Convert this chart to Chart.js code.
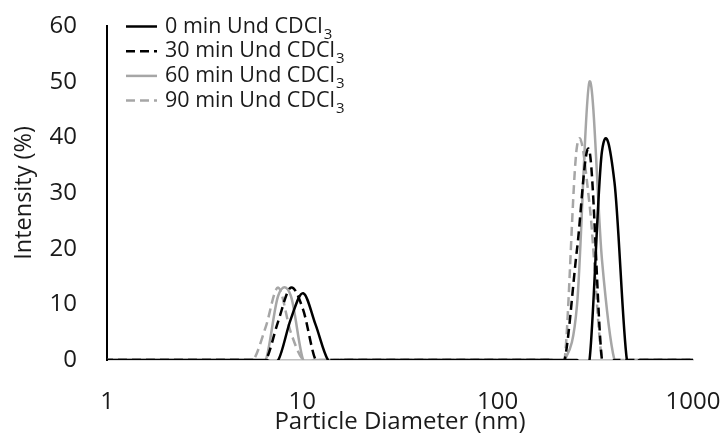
<!DOCTYPE html>
<html>
<head>
<meta charset="utf-8">
<script src="https://cdn.jsdelivr.net/npm/chart.js@4"></script>
<style>
html,body{margin:0;padding:0;background:#fff}
#wrap{width:726px;height:435px;position:relative}
</style>
</head>
<body>
<div id="wrap"><canvas id="myChart"></canvas></div>
<script>
// size classes of the DLS run (nm)
var sizes = [0.9649, 1.117, 1.294, 1.499, 1.736, 2.01, 2.328, 2.696, 3.122, 3.615,
  4.187, 4.849, 5.615, 6.503, 7.531, 8.721, 10.1, 11.7, 13.54, 15.69,
  18.17, 21.04, 24.36, 28.21, 32.67, 37.84, 43.82, 50.75, 58.77, 68.06,
  78.82, 91.28, 105.7, 122.4, 141.8, 164.2, 190.1, 220.2, 255.0, 295.3,
  342.0, 396.1, 458.7, 531.2, 615.1, 712.4, 825.0, 955.4, 1106]

// intensity (%) per size class
var min0 = [0,0,0,0,0,0,0,0,0,0,
  0,0,0,0,0,7.3,12,6.3,0,0,
  0,0,0,0,0,0,0,0,0,0,
  0,0,0,0,0,0,0,0,0,0,
  37.5,32,0,0,0,0,0,0,0]
var min30 = [0,0,0,0,0,0,0,0,0,0,
  0,0,0,0,7,13,9,0,0,0,
  0,0,0,0,0,0,0,0,0,0,
  0,0,0,0,0,0,0,0,20,37.5,
  0,0,0,0,0,0,0,0,0]
var min60 = [0,0,0,0,0,0,0,0,0,0,
  0,0,0,0,11.6,11.6,0,0,0,0,
  0,0,0,0,0,0,0,0,0,0,
  0,0,0,0,0,0,0,0,10,50,
  18,0,0,0,0,0,0,0,0]
var min90 = [0,0,0,0,0,0,0,0,0,0,
  0,0,0,6,13,5,0,0,0,0,
  0,0,0,0,0,0,0,0,0,0,
  0,0,0,0,0,0,0,0,38.5,28,
  0,0,0,0,0,0,0,0,0]

var labels = ['0 min Und CDCl₃', '30 min Und CDCl₃', '60 min Und CDCl₃', '90 min Und CDCl₃']
var xTicks = [1, 10, 100, 1000]
var yTicks = [0, 10, 20, 30, 40, 50, 60]

var black = '#000000'
var grey = '#a6a6a6'
var txt = '#1a1a1a'

function pts(vals){
    var out = []
    for(var i=0;i<=sizes.length-1;i++){
        out.push({x:sizes[i], y:vals[i]})
    }
    return out
}

// spreadsheet style smoothing: uniform catmull-rom control points
var smooth = {
    id:'smooth',
    beforeDatasetDraw:function(chart, args){
        var line = args.meta.dataset
        line.updateControlPoints(chart.chartArea, 'x')
        var p = line.points
        for(var i=0;i<=p.length-1;i++){
            var a = p[Math.max(i-1,0)]
            var b = p[Math.min(i+1,p.length-1)]
            var dx = (b.x-a.x)/6
            var dy = (b.y-a.y)/6
            p[i].cp1x = p[i].x-dx
            p[i].cp1y = p[i].y-dy
            p[i].cp2x = p[i].x+dx
            p[i].cp2y = p[i].y+dy
        }
    }
}

// legend drawn inside the plot, subscripts drawn smaller and lower
var subs = '₀₁₂₃₄₅₆₇₈₉'
var legendBox = {
    id:'legendBox',
    afterDraw:function(chart){
        var ctx = chart.ctx
        var x0 = chart.chartArea.left + 19
        var y0 = chart.chartArea.top + 0.5
        chart.data.datasets.forEach(function(ds, i){
            var y = y0 + i*24.7
            ctx.save()
            ctx.strokeStyle = ds.borderColor
            ctx.lineWidth = ds.borderWidth
            ctx.setLineDash(ds.borderDash || [])
            ctx.beginPath()
            ctx.moveTo(x0, y)
            ctx.lineTo(x0+31, y)
            ctx.stroke()
            ctx.restore()

            ctx.save()
            ctx.fillStyle = txt
            ctx.textBaseline = 'middle'
            ctx.textAlign = 'left'
            var x = x0 + 39
            var parts = ds.label.split('')
            var run = ''
            for(var c=0;c<=parts.length-1;c++){
                var k = subs.indexOf(parts[c])
                if(k<0){ run += parts[c]; continue }
                ctx.font = '21.5px "Open Sans"'
                ctx.fillText(run, x, y)
                x += ctx.measureText(run).width
                run = ''
                ctx.font = '15px "Open Sans"'
                ctx.fillText(String(k), x+1, y+8)
                x += ctx.measureText(String(k)).width + 1
            }
            if(run){
                ctx.font = '21.5px "Open Sans"'
                ctx.fillText(run, x, y)
            }
            ctx.restore()
        })
    }
}

var sets = [min0, min30, min60, min90]
var colors = [black, black, grey, grey]
var dashes = [[], [9,5], [], [9,5]]
var datasets = []
for(var s=0;s<=sets.length-1;s++){
    datasets.push({
        label:labels[s],
        data:pts(sets[s]),
        borderColor:colors[s],
        borderWidth:2.5,
        borderDash:dashes[s],
        pointRadius:0,
        tension:0.4,
        fill:false
    })
}

// invisible tick marks keep the labels away from the axis lines
var noGrid = function(len){
    return {display:true, drawOnChartArea:false, drawTicks:true, tickLength:len,
        color:'rgba(0,0,0,0)', tickColor:'rgba(0,0,0,0)'}
}

const ctx = document.getElementById('myChart')
var char = new Chart(ctx, {
    type:'line',
    data:{datasets:datasets},
    options:{
        responsive:true,
        maintainAspectRatio:false,
        animation:false,
        layout:{padding:{top:26, right:33, left:0, bottom:0}},
        plugins:{
            legend:{display:false},
            tooltip:{enabled:false}
        },
        scales:{
            x:{
                type:'logarithmic',
                min:1,
                max:1000,
                grid:noGrid(28),
                border:{color:'#bfbfbf', width:1.5},
                afterBuildTicks:function(axis){
                    axis.ticks = xTicks.map(function(v){ return {value:v} })
                },
                afterFit:function(axis){ axis.height = 75 },
                ticks:{
                    color:txt,
                    padding:0,
                    maxRotation:0,
                    autoSkip:false,
                    font:{family:'Open Sans', size:24},
                    callback:function(v){ return String(v) }
                },
                title:{
                    display:true,
                    text:'Particle Diameter (nm)',
                    color:txt,
                    font:{family:'Open Sans', size:24, lineHeight:1},
                    padding:{top:0, bottom:1}
                }
            },
            y:{
                min:0,
                max:60,
                grid:noGrid(30),
                border:{color:black, width:2},
                afterBuildTicks:function(axis){
                    axis.ticks = yTicks.map(function(v){ return {value:v} })
                },
                afterFit:function(axis){ axis.width = 107 },
                ticks:{
                    color:txt,
                    padding:0,
                    font:{family:'Open Sans', size:24}
                },
                title:{
                    display:true,
                    text:'Intensity (%)',
                    color:txt,
                    font:{family:'Open Sans', size:23.5, lineHeight:1},
                    padding:{top:13, bottom:0}
                }
            }
        }
    },
    plugins:[smooth, legendBox]
})
</script>
</body>
</html>
